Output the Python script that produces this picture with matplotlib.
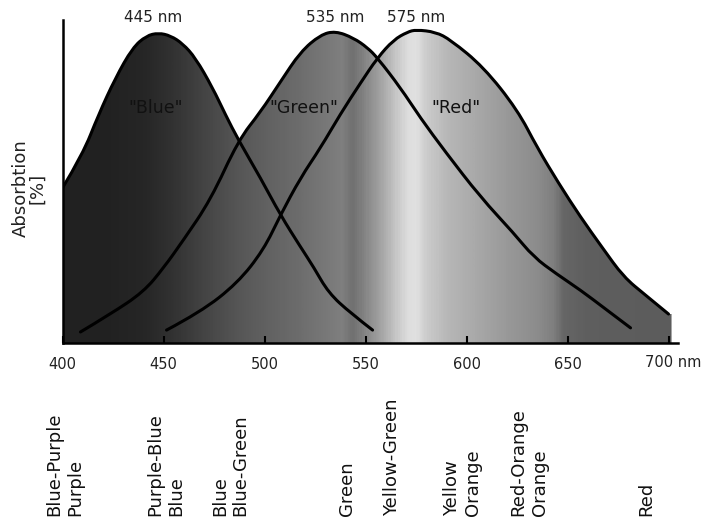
import numpy as np
import matplotlib.pyplot as plt
from matplotlib.colors import LinearSegmentedColormap
from matplotlib.patches import PathPatch
from matplotlib.path import Path
from matplotlib.transforms import blended_transform_factory

# absorption curves (wavelength nm, absorption %)
blue_nm = [400, 409.9, 417.8, 426.2, 434.7, 441.5, 447.5, 453.5, 459.5, 465.8, 474.3,
           480.7, 487.1, 498, 507.9, 517.8, 524.3, 531.7, 542.6, 553.5]
blue_val = [49.2, 59.7, 72.4, 84.1, 93.7, 97.5, 98.4, 97.5, 95.0, 90.5, 81.0,
            72.4, 64.4, 52.4, 40.6, 30.5, 24.1, 15.9, 9.5, 4.1]

green_nm = [408.9, 423.8, 440.1, 450, 459.9, 473.3, 487.1, 498, 507.9, 517.8, 527.7,
            535.1, 544.1, 551, 555.9, 567.3, 577.2, 589.6, 606.9, 623.3, 633.2,
            644.6, 656.4, 668.8, 681.2]
green_val = [3.5, 9.2, 16.2, 23.8, 32.7, 45.4, 64.4, 73.3, 82.9, 92.4, 97.8,
             99.0, 96.8, 93.7, 90.5, 81.0, 71.4, 60.6, 46.3, 34.9, 27.3,
             21.9, 16.8, 10.8, 4.8]

red_nm = [451.5, 468.3, 486.6, 499.5, 507.9, 517.8, 527.7, 537.6, 547.5, 555.9, 563.9,
          570.8, 575, 584.7, 592.1, 608.4, 625.2, 635.1, 645.5, 656.4, 667.3, 677.7,
          688.6, 700]
red_val = [4.1, 9.8, 19.0, 29.5, 40.6, 52.4, 61.9, 72.7, 82.5, 90.5, 96.2,
           98.7, 99.4, 98.7, 96.2, 87.6, 74.0, 61.9, 50.8, 40.0, 30.2, 21.0,
           15.2, 9.2]

# grey shading along the spectrum
shade_nm = [400, 420, 440, 455, 470, 485, 500, 515, 530, 538, 543, 548, 556, 565,
            571, 575, 580, 590, 605, 620, 635, 643, 648, 660, 705]
shade_grey = [0.13, 0.13, 0.15, 0.20, 0.27, 0.33, 0.38, 0.42, 0.47, 0.50, 0.44, 0.50,
              0.62, 0.78, 0.87, 0.88, 0.80, 0.72, 0.66, 0.60, 0.55, 0.50, 0.40, 0.37, 0.36]

peak_nm = [445, 535, 575]
curve_names = ['"Blue"', '"Green"', '"Red"']
curve_label_nm = [446, 519.3, 595]

tick_nm = [400, 450, 500, 550, 600, 650, 700]

color_names = ["Blue-Purple\nPurple", "Purple-Blue\nBlue", "Blue\nBlue-Green", "Green",
               "Yellow-Green", "Yellow\nOrange", "Red-Orange\nOrange", "Red"]
color_nm = [401, 451, 483, 541, 563, 598, 631, 689]

fill_right = 701.5


def curve_path(xs, ys, tail=()):
    # smooth quadratic path through the read points, optionally closed down to the axis
    pts = np.column_stack([xs, ys])
    verts = [pts[0]]
    codes = [Path.MOVETO]
    n = len(pts)
    for i in range(1, n - 1):
        end = pts[-1] if i == n - 2 else (pts[i] + pts[i + 1]) / 2
        verts += [pts[i], end]
        codes += [Path.CURVE3, Path.CURVE3]
    if tail:
        for p in tail:
            verts.append(p)
            codes.append(Path.LINETO)
        verts.append(pts[0])
        codes.append(Path.CLOSEPOLY)
    return Path(verts, codes)


fig = plt.figure(figsize=(7.02, 5.19), dpi=100)
ax = fig.add_axes([62.5 / 702, 176 / 519, 615.5 / 702, 323 / 519])
ax.set_xlim(400, 704.7)
ax.set_ylim(0, 102.5)

# gradient clipped to each curve's area
pos = [(v - shade_nm[0]) / (shade_nm[-1] - shade_nm[0]) for v in shade_nm]
cmap = LinearSegmentedColormap.from_list(
    "spec", list(zip(pos, [(g, g, g) for g in shade_grey])))
row = np.array([np.linspace(shade_nm[0], shade_nm[-1], 600)])

areas = [
    curve_path(blue_nm, blue_val, [(blue_nm[-1], 0), (blue_nm[0], 0)]),
    curve_path(green_nm, green_val, [(green_nm[-1], 0), (green_nm[0], 0)]),
    curve_path(red_nm, red_val, [(fill_right, red_val[-1]), (fill_right, 0), (red_nm[0], 0)]),
]
for area in areas:
    patch = PathPatch(area, facecolor="none", edgecolor="none")
    ax.add_patch(patch)
    im = ax.imshow(row, cmap=cmap, vmin=shade_nm[0], vmax=shade_nm[-1], aspect="auto",
                   extent=[shade_nm[0], shade_nm[-1], 0, 102.5], interpolation="bilinear")
    im.set_clip_path(patch)

for xs, ys in [(blue_nm, blue_val), (green_nm, green_val), (red_nm, red_val)]:
    ax.add_patch(PathPatch(curve_path(xs, ys), facecolor="none", edgecolor="black",
                           lw=2.2, joinstyle="round", capstyle="round"))

for spine in ["top", "right"]:
    ax.spines[spine].set_visible(False)
ax.spines["left"].set_linewidth(1.8)
ax.spines["bottom"].set_linewidth(1.8)
ax.set_yticks([])
ax.set_xticks(tick_nm)
ax.set_xticklabels([str(t) for t in tick_nm[:-1]] + [""])
ax.tick_params(axis="x", direction="in", length=5, width=1.5, pad=10,
               labelsize=10.5, labelcolor="#222222")
ax.text(tick_nm[-1] - 11.5, -0.059, f"{tick_nm[-1]} nm", transform=ax.get_xaxis_transform(),
        ha="left", va="center", fontsize=10.5, color="#222222", clip_on=False)

for nm in peak_nm:
    ax.text(nm, 103.2, f"{nm} nm", ha="center", va="center", fontsize=11,
            color="#222222", clip_on=False)

for name, x in zip(curve_names, curve_label_nm):
    ax.text(x, 74.6, name, ha="center", va="center", fontsize=12.5, color="#111111")

fig.text(29 / 702, 1 - 188 / 519, "Absorbtion\n[%]", rotation=90, ha="center",
         va="center", multialignment="center", linespacing=0.9, fontsize=13,
         color="#222222")

trans = blended_transform_factory(ax.transData, fig.transFigure)
for name, x in zip(color_names, color_nm):
    ax.text(x, 0.005, name, transform=trans, rotation=90, ha="center", va="bottom",
            multialignment="left", fontsize=13, color="#111111", clip_on=False)

fig.savefig("out.png", dpi=100)
